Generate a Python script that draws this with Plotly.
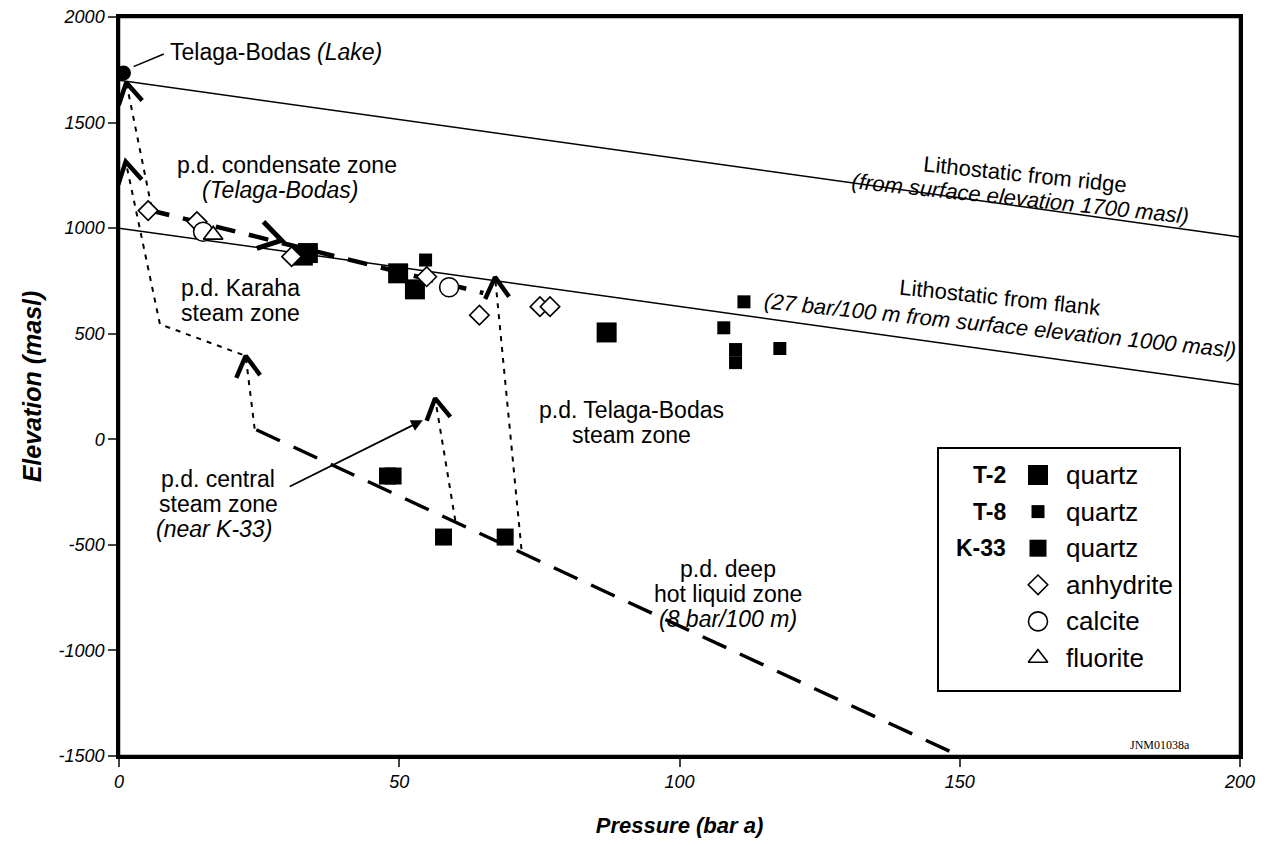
import math
import plotly.graph_objects as go

# ---------------- data ----------------
ridge_x = [0, 200]
ridge_y = [1700, 958]
flank_x = [0, 200]
flank_y = [1000, 258]

lake_x = [0.8]
lake_y = [1735]

t2_x = [32.8, 33.7, 49.8, 52.8, 87.0]
t2_y = [870, 882, 786, 710, 506]
t8_x = [54.7, 107.9, 111.5, 110.0, 110.0, 117.9]
t8_y = [849, 528, 651, 425, 363, 430]
k33_x = [47.9, 48.9, 57.9, 68.9]
k33_y = [-174, -174, -463, -463]
anh_x = [5.2, 13.9, 30.8, 54.9, 64.3, 75.1, 76.9]
anh_y = [1083, 1031, 865, 770, 588, 628, 628]
cal_x = [15.0, 58.9]
cal_y = [983, 720]
flu_x = [16.8]
flu_y = [968]

# flow paths
deep_x = [24.5, 150]
deep_y = [45, -1500]
cond_x = [5.5, 65]
cond_y = [1085, 693]
lake_path_x = [5.8, 1.3]
lake_path_y = [1100, 1690]
karaha_path_x = [24.2, 22.6, 7.3, 1.2]
karaha_path_y = [50, 395, 545, 1315]
central_path_x = [60.0, 56.4]
central_path_y = [-385, 194]
tb_path_x = [71.8, 67.1]
tb_path_y = [-520, 768]

legend_wells = ["T-2", "T-8", "K-33", "", "", ""]
legend_minerals = ["quartz", "quartz", "quartz", "anhydrite", "calcite", "fluorite"]

x_ticks = [0, 50, 100, 150, 200]
y_ticks = [-1500, -1000, -500, 0, 500, 1000, 1500, 2000]

# ---------------- layout geometry ----------------
# the page has an 8px body margin; the figure is sized so the plot area lands
# at x 119..1240, y 17..756 of the window and the whole figure fits in it
W, H = 1254, 830
ML, MR, MT, MB = 111, 22, 9, 82
PW, PH = W - ML - MR, H - MT - MB
PX0, PY0 = 119, 17            # window pixel of plot-area top-left
XR = [0, 200]
YR = [-1500, 2000]
PXX = PW / (XR[1] - XR[0])
PXY = PH / (YR[1] - YR[0])

FONT = "Arial, Liberation Sans, Helvetica, sans-serif"
fig = go.Figure()

def line(x, y, width=1.5, dash="solid"):
    fig.add_trace(go.Scatter(x=x, y=y, mode="lines", hoverinfo="skip",
                             line=dict(color="black", width=width, dash=dash),
                             showlegend=False))

line(ridge_x, ridge_y, 1.5)
line(flank_x, flank_y, 1.5)
line(deep_x, deep_y, 3.5, "26px,15px")
line(cond_x, cond_y, 4.5, "20px,14px")
DOT = "5px,6px"
for px_, py_ in [(lake_path_x, lake_path_y), (karaha_path_x, karaha_path_y),
                 (central_path_x, central_path_y), (tb_path_x, tb_path_y)]:
    line(px_, py_, 2, DOT)

def chevron(tip, frm, length=24, half=30, width=4.5):
    dx = (tip[0] - frm[0]) * PXX
    dy = (tip[1] - frm[1]) * PXY
    ang = math.atan2(dy, dx)
    xs, ys = [], []
    for s in (1, -1):
        a = ang + math.pi + s * math.radians(half)
        xs.append(tip[0] + length * math.cos(a) / PXX)
        ys.append(tip[1] + length * math.sin(a) / PXY)
    fig.add_trace(go.Scatter(x=[xs[0], tip[0], xs[1]], y=[ys[0], tip[1], ys[1]],
                             mode="lines", hoverinfo="skip", showlegend=False,
                             line=dict(color="black", width=width)))

chevron((lake_path_x[-1], lake_path_y[-1]), (lake_path_x[0], lake_path_y[0]))
chevron((karaha_path_x[-1], karaha_path_y[-1]), (karaha_path_x[-2], karaha_path_y[-2]))
chevron((karaha_path_x[1], karaha_path_y[1]), (karaha_path_x[0], karaha_path_y[0]))
chevron((central_path_x[-1], central_path_y[-1]), (central_path_x[0], central_path_y[0]))
chevron((tb_path_x[-1], tb_path_y[-1]), (tb_path_x[0], tb_path_y[0]))
cx = 29.0
cy = cond_y[0] + (cond_y[1] - cond_y[0]) * (cx - cond_x[0]) / (cond_x[1] - cond_x[0]) + 12
chevron((cx, cy), (cond_x[0], cond_y[0] + 12), length=26, half=32, width=5)

# markers
SQ = dict(color="black", line=dict(width=0))
OPEN = dict(color="white", line=dict(color="black", width=1.6))
STY = {
    "T-2": dict(symbol="square", size=20, **SQ),
    "T-8": dict(symbol="square", size=13, **SQ),
    "K-33": dict(symbol="square", size=17, **SQ),
    "anhydrite": dict(symbol="diamond", size=15, **OPEN),
    "calcite": dict(symbol="circle", size=19, **OPEN),
    "fluorite": dict(symbol="triangle-up", size=17, **OPEN),
}

def pts(x, y, key):
    fig.add_trace(go.Scatter(x=x, y=y, mode="markers", marker=STY[key],
                             showlegend=False, name=key))

pts(t2_x, t2_y, "T-2")
pts(t8_x, t8_y, "T-8")
pts(k33_x, k33_y, "K-33")
pts(anh_x, anh_y, "anhydrite")
pts(cal_x, cal_y, "calcite")
pts(flu_x, flu_y, "fluorite")
fig.add_trace(go.Scatter(x=lake_x, y=lake_y, mode="markers", cliponaxis=False,
                         marker=dict(symbol="circle", size=15, color="black"),
                         showlegend=False))

# ---------------- annotations (window-pixel overlay coordinates) ----------------
anns = []
def txt(x, y, text, size=23, angle=0, xanchor="center", font=FONT):
    anns.append(dict(x=x, y=y, xref="x2", yref="y2", text=text, showarrow=False,
                     xanchor=xanchor, yanchor="middle", textangle=angle,
                     font=dict(family=font, size=size, color="black")))

def block(x, yc, lines, step=25, size=23, angle=0, dx=None, dy=None):
    n = len(lines)
    for i, t in enumerate(lines):
        xo = x if dx is None else x + dx[i]
        yo = yc + (i - (n - 1) / 2) * step + (0 if dy is None else dy[i])
        txt(xo, yo, t, size=size, angle=angle)

txt(168, 52, "Telaga-Bodas <i>(Lake)</i>", size=23, xanchor="left")
block(285, 177, ["p.d. condensate zone", "<i>(Telaga-Bodas)</i>"], dx=[2, -5])
block(240, 300, ["p.d. Karaha", "steam zone"])
block(1023, 187, ["Lithostatic from ridge", "<i>(from surface elevation 1700 masl)</i>"],
      step=26, size=22, angle=6, dx=[2, -3], dy=[0, -2])
block(1000, 311, ["Lithostatic from flank",
                  "<i>(27 bar/100 m from surface elevation 1000 masl)</i>"],
      step=28, size=22, angle=6)
block(631, 422, ["p.d. Telaga-Bodas", "steam zone"])
block(217, 504, ["p.d. central", "steam zone", "<i>(near K-33)</i>"], dx=[1, 1, -3])
block(728, 594, ["p.d. deep", "hot liquid zone", "<i>(8 bar/100 m)</i>"])
txt(1160, 745, "JNM01038a", size=12, font="Liberation Serif, Times New Roman, serif")

anns.append(dict(x=54.2, y=90, ax=30.2, ay=-227, xref="x", yref="y", axref="x", ayref="y",
                 text="", showarrow=True, arrowhead=2, arrowsize=1.3, arrowwidth=1.8,
                 arrowcolor="black"))

# legend drawn on the pixel overlay
LX0, LY0, LX1, LY1 = 938, 448, 1180, 691
row0, rstep = 475, 36.6
keys = ["T-2", "T-8", "K-33", "anhydrite", "calcite", "fluorite"]
for i, k in enumerate(keys):
    yy = row0 + i * rstep
    fig.add_trace(go.Scatter(x=[1038], y=[yy], xaxis="x2", yaxis="y2", mode="markers",
                             marker=STY[k], showlegend=False, hoverinfo="skip"))
    if legend_wells[i]:
        txt(1008, yy, "<b>" + legend_wells[i] + "</b>", size=23, xanchor="right")
    txt(1064, yy, legend_minerals[i], size=26, xanchor="left")

shapes = [
    dict(type="rect", xref="x2", yref="y2", x0=LX0, y0=LY0, x1=LX1, y1=LY1,
         line=dict(color="black", width=2), fillcolor="white", layer="below"),
    dict(type="line", xref="x", yref="y", x0=2.6, y0=1765, x1=8.0, y1=1825,
         line=dict(color="black", width=1.5)),
    dict(type="rect", xref="paper", yref="paper", x0=0, y0=0, x1=1, y1=1,
         line=dict(color="black", width=2.5), layer="above"),
]

fig.update_layout(
    width=W, height=H, margin=dict(l=ML, r=MR, t=MT, b=MB, autoexpand=False),
    paper_bgcolor="white", plot_bgcolor="rgba(0,0,0,0)",
    annotations=anns, shapes=shapes, showlegend=False,
    font=dict(family=FONT, color="black"),
    xaxis=dict(range=XR, tickvals=x_ticks, ticktext=[str(v) for v in x_ticks],
               ticks="outside", ticklen=8, tickwidth=2, automargin=False,
               ticklabeloverflow="allow",
               showline=True, linewidth=2.5, linecolor="black", mirror=True,
               showgrid=False, zeroline=False,
               tickfont=dict(family=FONT, size=18, style="italic"),
               title=dict(text="Pressure (bar a)", standoff=39,
                          font=dict(family=FONT, size=22, weight="bold", style="italic"))),
    yaxis=dict(range=YR, tickvals=y_ticks, ticktext=[str(v) for v in y_ticks],
               ticks="outside", ticklen=8, tickwidth=2, automargin=False,
               ticklabeloverflow="allow",
               showline=True, linewidth=2.5, linecolor="black", mirror=True,
               showgrid=False, zeroline=False,
               tickfont=dict(family=FONT, size=18, style="italic"),
               title=dict(text="Elevation (masl)", standoff=10,
                          font=dict(family=FONT, size=25, weight="bold", style="italic"))),
    xaxis2=dict(range=[PX0, PX0 + PW], overlaying="x", visible=False, anchor="y2"),
    yaxis2=dict(range=[PY0 + PH, PY0], overlaying="y", visible=False, anchor="x2"),
)

fig.write_html("out.html")
